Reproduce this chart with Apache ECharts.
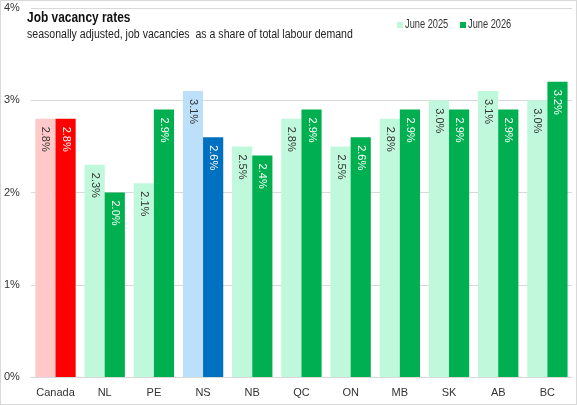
<!DOCTYPE html>
<html>
<head>
<meta charset="utf-8">
<script src="https://cdn.jsdelivr.net/npm/echarts@6/dist/echarts.min.js"></script>
<style>
  html, body { margin: 0; padding: 0; background: #fff; }
  #chart { width: 575px; height: 403px; border: 1px solid #d9d9d9; }
</style>
</head>
<body>
<div id="chart"></div>
<script>
const regions = ['Canada', 'NL', 'PE', 'NS', 'NB', 'QC', 'ON', 'MB', 'SK', 'AB', 'BC'];
const june2025 = [2.8, 2.3, 2.1, 3.1, 2.5, 2.8, 2.5, 2.8, 3.0, 3.1, 3.0];
const june2026 = [2.8, 2.0, 2.9, 2.6, 2.4, 2.9, 2.6, 2.9, 2.9, 2.9, 3.2];
const yTicks = [0, 1, 2, 3, 4];
const seriesNames = ['June 2025', 'June 2026'];

const FONT = '"Liberation Sans", Arial, sans-serif';
const LIGHT = '#bff8da';
const DARK = '#00b050';

// highlighted bars: Canada red, NS blue
const lightColors = { Canada: '#ffc9c9', NS: '#bde0fa' };
const darkColors = { Canada: '#ff0000', NS: '#0070c0' };

function buildData(values, special, base) {
  return values.map((v, i) => ({
    value: v,
    itemStyle: { color: special[regions[i]] || base }
  }));
}

function labelStyle(color) {
  return {
    show: true,
    position: 'insideTop',
    rotate: -90,
    align: 'left',
    verticalAlign: 'middle',
    distance: 8,
    color: color,
    fontFamily: FONT,
    fontSize: 11,
    formatter: p => p.value.toFixed(1) + '%'
  };
}

// the source uses a narrow font, so texts are squeezed horizontally
function narrowText(x, y, text, font, scale, color) {
  return {
    type: 'text',
    x: x,
    y: y,
    scaleX: scale,
    silent: true,
    style: { text: text, font: font, fill: color, verticalAlign: 'middle', textVerticalAlign: 'middle' }
  };
}

function legendItem(x, name, color) {
  return [
    { type: 'rect', shape: { x: x, y: 21, width: 6, height: 6 }, style: { fill: color }, silent: true },
    narrowText(x + 8, 24, name, '12.5px ' + FONT, 0.74, '#333')
  ];
}

const chart = echarts.init(document.getElementById('chart'), null, { renderer: 'canvas' });

chart.setOption({
  animation: false,
  backgroundColor: '#fff',
  textStyle: { fontFamily: FONT },
  graphic: [
    narrowText(26, 17, 'Job vacancy rates', 'bold 15.5px ' + FONT, 0.77, '#111'),
    narrowText(26, 34, 'seasonally adjusted, job vacancies  as a share of total labour demand', '12px ' + FONT, 0.88, '#222'),
    ...legendItem(396, seriesNames[0], LIGHT),
    ...legendItem(459, seriesNames[1], DARK)
  ],
  grid: { left: 29, right: 4, top: 7, bottom: 27 },
  xAxis: {
    type: 'category',
    data: regions,
    axisTick: { show: false },
    axisLine: { lineStyle: { color: '#d9d9d9' } },
    axisLabel: { interval: 0, color: '#333', fontSize: 11, margin: 10, fontFamily: FONT }
  },
  yAxis: {
    type: 'value',
    min: yTicks[0],
    max: yTicks[yTicks.length - 1],
    interval: 1,
    axisLabel: { formatter: '{value}%', color: '#333', fontSize: 11, margin: 11, fontFamily: FONT },
    splitLine: { lineStyle: { color: '#d9d9d9' } }
  },
  series: [
    {
      name: seriesNames[0],
      type: 'bar',
      barGap: '0%',
      barCategoryGap: '18%',
      itemStyle: { color: LIGHT },
      label: labelStyle('#333'),
      data: buildData(june2025, lightColors, LIGHT)
    },
    {
      name: seriesNames[1],
      type: 'bar',
      itemStyle: { color: DARK },
      label: labelStyle('#fff'),
      data: buildData(june2026, darkColors, DARK)
    }
  ]
});
</script>
</body>
</html>
